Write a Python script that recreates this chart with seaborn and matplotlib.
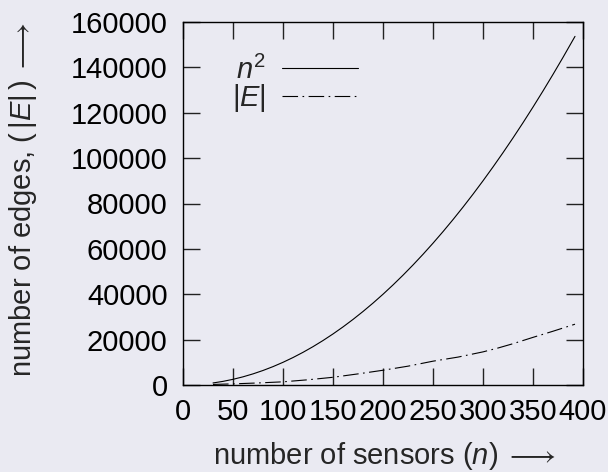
import matplotlib
matplotlib.use("Agg")
import matplotlib.pyplot as plt
import seaborn as sns
import pandas as pd

# number of sensors and the n^2 reference curve
n_sq = [30, 40, 50, 60, 70, 80, 90, 100, 110, 120, 130, 140, 150, 160, 170,
        180, 190, 200, 210, 220, 230, 240, 250, 260, 270, 280, 290, 300,
        310, 320, 330, 340, 350, 360, 370, 380, 392]
sq_vals = [900, 1600, 2500, 3600, 4900, 6400, 8100, 10000, 12100, 14400,
           16900, 19600, 22500, 25600, 28900, 32400, 36100, 40000, 44100,
           48400, 52900, 57600, 62500, 67600, 72900, 78400, 84100, 90000,
           96100, 102400, 108900, 115600, 122500, 129600, 136900, 144400,
           153664]

# measured number of edges |E|
n_edges = [30, 50, 75, 100, 125, 150, 175, 200, 225, 250, 275, 300, 315,
           330, 350, 370, 392]
edge_vals = [250, 500, 900, 1400, 2300, 3400, 4900, 6500, 8300, 10500,
             12300, 14600, 16300, 18200, 21000, 23700, 26800]

x_ticks = [0, 50, 100, 150, 200, 250, 300, 350, 400]
y_ticks = [0, 20000, 40000, 60000, 80000, 100000, 120000, 140000, 160000]

bg = "#EAEAF2"
sns.set_theme(style="ticks", rc={"figure.facecolor": bg, "axes.facecolor": bg,
                                 "savefig.facecolor": bg})
plt.rcParams["font.family"] = ["Liberation Sans", "DejaVu Sans"]
plt.rcParams["mathtext.fontset"] = "custom"
plt.rcParams["mathtext.rm"] = "Liberation Sans"
plt.rcParams["mathtext.it"] = "Liberation Sans:italic"
plt.rcParams["mathtext.bf"] = "Liberation Sans:bold"

fs = 21
W, H = 608, 472
fig = plt.figure(figsize=(W / 100, H / 100), dpi=100)
ax = fig.add_axes([183 / W, 1 - 385 / H, 400 / W, 363 / H])

df_sq = pd.DataFrame({"n": n_sq, "v": sq_vals})
df_e = pd.DataFrame({"n": n_edges, "v": edge_vals})
sns.lineplot(data=df_sq, x="n", y="v", ax=ax, color="black", lw=0.8,
             label=r"$n^2$")
sns.lineplot(data=df_e, x="n", y="v", ax=ax, color="black", lw=0.8,
             linestyle=(0, (14, 4, 1.5, 4)), label=r"$|E|$")

ax.set_xlim(0, 400)
ax.set_ylim(0, 160000)
ax.set_xticks(x_ticks)
ax.set_yticks(y_ticks)
ax.set_xticklabels([str(t) for t in x_ticks])
ax.set_yticklabels([str(t) for t in y_ticks])
ax.tick_params(direction="in", length=12, width=1.0, color="#222222",
               top=True, right=True, labelsize=fs, labelcolor="black")
ax.tick_params(axis="y", pad=11)
ax.tick_params(axis="x", pad=9)
for s in ax.spines.values():
    s.set_visible(True)
    s.set_color("black")
    s.set_linewidth(1.0)
ax.set_xlabel("")
ax.set_ylabel("")

# axis titles, anchored at their starting edge
fig.text(213 / W, 1 - 456 / H, r"number of sensors ($n$)$\;\longrightarrow$",
         ha="left", va="center", fontsize=fs)
fig.text(23 / W, 1 - 377 / H,
         r"number of edges, ($\,|E|\,$)$\;\longrightarrow$",
         ha="center", va="bottom", rotation=90, fontsize=fs)

leg = ax.legend(loc="upper left", bbox_to_anchor=(0.1225, 0.908),
                frameon=False, markerfirst=False, fontsize=fs,
                handlelength=2.6, handletextpad=0.55, labelspacing=-0.09,
                borderpad=0, borderaxespad=0)

fig.savefig("out.png", dpi=100, facecolor=bg)
